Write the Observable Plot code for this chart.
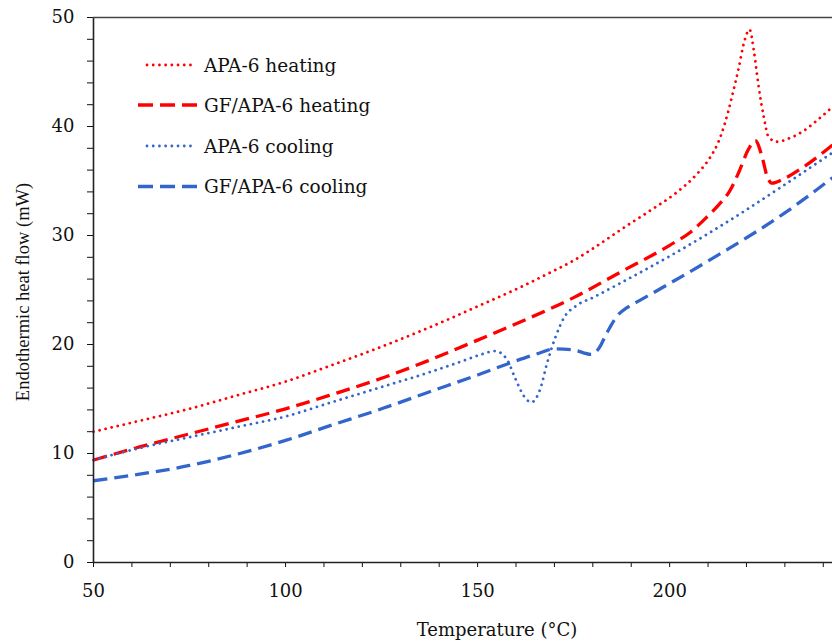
<!DOCTYPE html>
<html>
<head>
<meta charset="utf-8">
<script src="https://cdn.jsdelivr.net/npm/d3@7"></script>
<script src="https://cdn.jsdelivr.net/npm/@observablehq/plot@0.6"></script>
<style>
  html, body { margin: 0; padding: 0; background: #fff; }
  #chart svg { display: block; }
</style>
</head>
<body>
<div id="chart"></div>
<script>
// ---- data ----
const seriesNames = ["APA-6 heating", "GF/APA-6 heating", "APA-6 cooling", "GF/APA-6 cooling"];

const apaHeatT = [50, 62, 75, 87, 100, 112, 125, 137, 150, 162, 170, 175, 180, 188, 195, 202, 207, 210.6, 212.6, 214.4, 216.2, 218, 219.3, 220.8, 221.9, 223.2, 224.5, 225.8, 228, 231, 234.9, 238.5, 242.4];
const apaHeatQ = [12.0, 13.0, 14.1, 15.3, 16.6, 18.1, 19.8, 21.5, 23.5, 25.4, 26.8, 27.7, 28.8, 30.7, 32.3, 34.0, 35.6, 37.2, 38.5, 40.3, 42.7, 45.4, 47.6, 48.9, 47.0, 43.6, 40.9, 39.0, 38.6, 38.9, 39.6, 40.6, 41.8];

const gfHeatT = [50, 62, 75, 87, 100, 112, 125, 137, 150, 162, 175, 187, 200, 205.4, 209.7, 213, 215.5, 218, 220.5, 222.3, 224, 225.4, 226.7, 229.7, 234.9, 242.4];
const gfHeatQ = [9.4, 10.6, 11.8, 12.9, 14.1, 15.4, 16.9, 18.5, 20.4, 22.2, 24.3, 26.6, 29.1, 30.3, 31.7, 32.9, 34.0, 35.8, 37.9, 38.7, 37.3, 35.4, 34.8, 35.2, 36.3, 38.3];

const apaCoolT = [50, 62, 75, 87, 100, 112, 125, 137, 147, 151, 154.6, 157.5, 159.8, 162, 164, 166.3, 168.1, 170.2, 172.4, 175.9, 180, 187, 200, 217.5, 229.7, 242.4];
const apaCoolQ = [9.4, 10.5, 11.5, 12.4, 13.4, 14.7, 16.1, 17.4, 18.6, 19.1, 19.4, 18.7, 16.9, 15.3, 14.7, 15.9, 18.3, 20.6, 22.4, 23.6, 24.3, 25.6, 28.1, 31.8, 34.6, 37.6];

const gfCoolT = [50, 62, 75, 87, 100, 112, 125, 137, 150, 160, 166, 170, 175, 179.5, 181.5, 183.7, 186.3, 189, 192, 200, 214, 229.7, 242.4];
const gfCoolQ = [7.5, 8.1, 8.9, 9.9, 11.2, 12.6, 14.1, 15.6, 17.2, 18.5, 19.2, 19.6, 19.5, 19.1, 19.6, 21.1, 22.6, 23.4, 24.0, 25.6, 28.5, 32.0, 35.3];

const xTicks = d3.range(50, 241, 10);
const xTickLabels = [50, 100, 150, 200];
const yTicks = d3.range(0, 51, 2);
const yTickLabels = [0, 10, 20, 30, 40, 50];
const xTitle = "Temperature (°C)";
const yTitle = "Endothermic heat flow (mW)";

// ---- build tables ----
const seriesData = [
  [apaHeatT, apaHeatQ],
  [gfHeatT, gfHeatQ],
  [apaCoolT, apaCoolQ],
  [gfCoolT, gfCoolQ]
].map(([T, Q], i) => T.map((t, j) => ({series: seriesNames[i], t, q: Q[j]})));

// ---- styles ----
const RED = "#ff0000", BLUE = "#3366cc";
const DOT = {dash: "0.01 6.2", width: 2.8, cap: "round"};
const DASH = {dash: "14 7", width: 3.3, cap: "butt"};
const lineStyles = [
  {color: RED, ...DOT},
  {color: RED, ...DASH},
  {color: BLUE, ...DOT},
  {color: BLUE, ...DASH}
];

const plot = Plot.plot({
  width: 832,
  height: 644,
  marginLeft: 93,
  marginRight: 0,
  marginTop: 17,
  marginBottom: 82,
  style: {fontFamily: "'DejaVu Serif', serif", fontSize: "18px", color: "#111", background: "#fff"},
  x: {domain: [50, 242.4], label: null},
  y: {domain: [0, 50], label: null},
  marks: [
    Plot.axisX({ticks: xTicks, tickSize: 5, tickPadding: 17, label: null,
      tickFormat: d => xTickLabels.includes(d) ? String(d) : ""}),
    Plot.axisY({ticks: yTicks, tickSize: 6, tickPadding: 13, label: null,
      tickFormat: d => yTickLabels.includes(d) ? String(d) : ""}),
    ...seriesData.map((rows, i) => Plot.line(rows, {
      x: "t", y: "q",
      stroke: lineStyles[i].color,
      strokeWidth: lineStyles[i].width,
      strokeDasharray: lineStyles[i].dash,
      strokeLinecap: lineStyles[i].cap,
      curve: "monotone-x"
    })),
    Plot.ruleX([50], {stroke: "#222", strokeWidth: 1.6}),
    Plot.ruleY([0], {stroke: "#222", strokeWidth: 1.6}),
    Plot.ruleY([50], {stroke: "#444", strokeWidth: 1.6}),
    Plot.text([xTitle], {text: d => d, frameAnchor: "bottom", textAnchor: "middle", dx: 34, dy: 68, lineAnchor: "middle", fontSize: 18, fill: "#111"}),
    Plot.text([yTitle], {text: d => d, frameAnchor: "left", textAnchor: "middle", rotate: -90, dx: -70, dy: 2, lineAnchor: "middle",
      fontFamily: "'Liberation Serif', serif", fontSize: 18.5, fill: "#111"})
  ]
});

// ---- legend (layout only) ----
const svg = d3.select(plot);
const legend = svg.append("g").attr("class", "legend");
const rowY = [65, 105, 146, 186.5];
seriesNames.forEach((name, i) => {
  const s = lineStyles[i];
  const isDot = s.cap === "round";
  legend.append("line")
    .attr("x1", isDot ? 147 : 138).attr("x2", isDot ? 196 : 197)
    .attr("y1", rowY[i]).attr("y2", rowY[i])
    .attr("stroke", s.color).attr("stroke-width", s.width)
    .attr("stroke-dasharray", isDot ? s.dash : "15 7")
    .attr("stroke-linecap", s.cap);
  legend.append("text")
    .attr("x", 204).attr("y", rowY[i]).attr("dy", "0.36em")
    .attr("text-anchor", "start")
    .attr("font-family", "'DejaVu Serif', serif")
    .attr("font-size", 18.5)
    .attr("fill", "#111")
    .text(name);
});

document.getElementById("chart").appendChild(plot);
</script>
</body>
</html>
